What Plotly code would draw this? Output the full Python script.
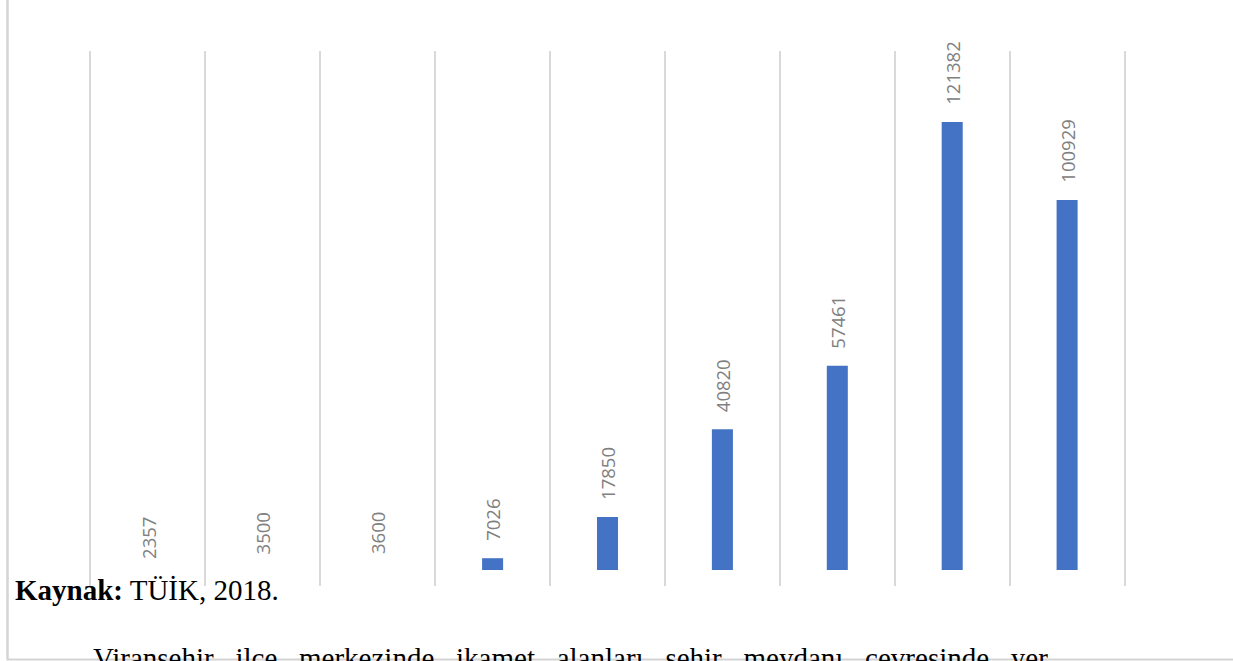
import plotly.graph_objects as go

# ---- data ----
categories = ["1927", "1935", "1940", "1950", "1960", "1970", "1980", "1990", "2000"]
population = [2357, 3500, 3600, 7026, 17850, 40820, 57461, 121382, 100929]
label_text = [str(v) for v in population]

source_bold = "Kaynak:"
source_rest = " TÜİK, 2018."
body_words = ["Viranşehir", "ilçe", "merkezinde", "ikamet", "alanları",
              "şehir", "meydanı", "çevresinde", "yer"]

# ---- geometry / styles ----
FIG_W, FIG_H = 1233, 661
CAT_PX = 115
PAD = 0.03
GRID_LEFT = 90
PLOT_TOP, PLOT_BOTTOM = 51, 585      # full plot area (value 0 at the bottom)
HIDDEN_PX = 15                       # bottom band where bars are hidden
Y_MAX = 140000

plot_left = GRID_LEFT - PAD * CAT_PX
plot_w = (len(categories) + 2 * PAD) * CAT_PX
plot_h = PLOT_BOTTOM - PLOT_TOP
hide_frac = HIDDEN_PX / plot_h
Y_MIN = Y_MAX * hide_frac

m_l = plot_left
m_r = FIG_W - plot_left - plot_w
m_t = PLOT_TOP
m_b = FIG_H - PLOT_BOTTOM


def px_x(px):
    return (px - plot_left) / plot_w


def px_y(py):
    return (PLOT_BOTTOM - py) / plot_h


BAR_COLOR = "#4472C4"
GRID_COLOR = "#d9d9d9"
LABEL_COLOR = "#808080"
BORDER_COLOR = "#d4d4d4"

fig = go.Figure()
fig.add_trace(go.Bar(
    x=categories, y=population,
    marker=dict(color=BAR_COLOR, line=dict(width=0)),
    hoverinfo="x+y",
))
# invisible companion trace on the full-height value axis (used for labels)
fig.add_trace(go.Scatter(
    x=categories, y=population, yaxis="y2", mode="markers",
    marker=dict(opacity=0, size=1), hoverinfo="skip", showlegend=False,
))

annotations = []
for i, (v, t) in enumerate(zip(population, label_text)):
    annotations.append(dict(
        x=i, y=v, xref="x", yref="y2", text=t, showarrow=False,
        textangle=-90, xanchor="center", yanchor="bottom", yshift=15,
        font=dict(family="Open Sans", size=18.5, color=LABEL_COLOR),
    ))

annotations.append(dict(
    x=px_x(12), y=px_y(572), xref="paper", yref="paper",
    xanchor="left", yanchor="top", showarrow=False,
    text="<b>" + source_bold + "</b>" + source_rest,
    font=dict(family="Liberation Serif", size=29, color="#000000"),
))

body_text = ("\u00a0\u00a0\u00a0").join(body_words)
annotations.append(dict(
    x=px_x(91), y=px_y(640), xref="paper", yref="paper",
    xanchor="left", yanchor="top", showarrow=False,
    text=body_text,
    font=dict(family="Liberation Serif", size=29, color="#000000"),
))

shapes = [
    dict(type="line", xref="paper", yref="paper",
         x0=px_x(7), x1=px_x(7), y0=px_y(-5), y1=px_y(659),
         line=dict(color=BORDER_COLOR, width=2.5), layer="above"),
    dict(type="line", xref="paper", yref="paper",
         x0=px_x(6), x1=px_x(1240), y0=px_y(659.5), y1=px_y(659.5),
         line=dict(color=BORDER_COLOR, width=2), layer="above"),
]

fig.update_layout(
    width=FIG_W, height=FIG_H,
    margin=dict(l=m_l, r=m_r, t=m_t, b=m_b, pad=0),
    paper_bgcolor="white", plot_bgcolor="rgba(0,0,0,0)",
    bargap=0.817,
    showlegend=False,
    annotations=annotations,
    shapes=shapes,
    xaxis=dict(
        type="category",
        range=[-0.5 - PAD, len(categories) - 0.5 + PAD],
        tickson="boundaries",
        showgrid=True, gridcolor=GRID_COLOR, gridwidth=1.6,
        ticks="outside", ticklen=HIDDEN_PX, tickcolor=GRID_COLOR, tickwidth=1.6,
        showticklabels=False, showline=False, zeroline=False,
        fixedrange=True,
    ),
    yaxis=dict(
        domain=[hide_frac, 1],
        range=[Y_MIN, Y_MAX],
        showgrid=False, showticklabels=False, zeroline=False,
        showline=False, ticks="", fixedrange=True,
    ),
    yaxis2=dict(
        domain=[0, 1], anchor="x",
        range=[0, Y_MAX],
        showgrid=False, showticklabels=False, zeroline=False,
        showline=False, ticks="", fixedrange=True,
    ),
)

fig.write_html(
    "out.html",
    config={"displayModeBar": False},
    post_script="document.body.style.margin='0';document.body.style.overflow='hidden';",
)
